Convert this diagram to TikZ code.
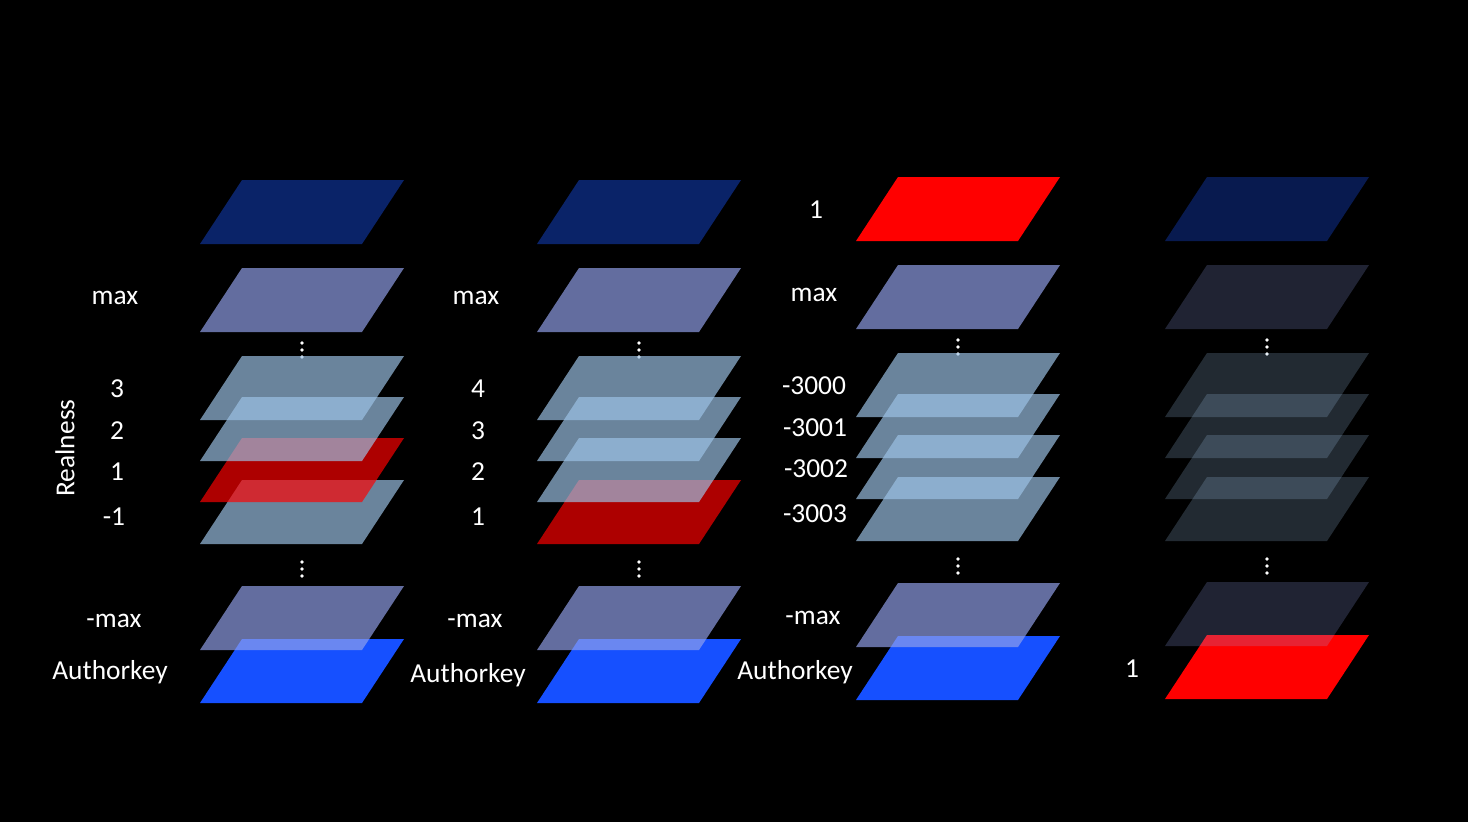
\documentclass[tikz,border=0pt]{standalone}
\usepackage{fontspec}
\setmainfont{Carlito}
\definecolor{navy}{RGB}{10,35,104}
\definecolor{navydim}{RGB}{8,26,79}
\definecolor{slate}{RGB}{147,162,235}
\definecolor{steel}{RGB}{157,195,230}
\definecolor{authblue}{RGB}{22,80,255}
% one layer: bottom left corner, colour, opacity
\newcommand{\layer}[4]{\fill[#3,opacity=#4] (#1,#2) -- ++(162,0) -- ++(42,-64) -- ++(-162,0) -- cycle;}
\newcommand{\dotsat}[2]{\foreach \d in {-7,0,7} \fill[white] (#1,#2+\d) circle (1.8);}
\begin{document}
\begin{tikzpicture}[x=0.02cm, y=-0.02cm, lbl/.style={text=white, font=\fontsize{15.6}{18}\selectfont}]
\fill[black] (0,0) rectangle (1468,822);
% dots behind the stacks
\dotsat{302}{350} \dotsat{302}{569}
\dotsat{639}{350} \dotsat{639}{569}
\dotsat{958}{347} \dotsat{958}{566}
\dotsat{1267}{347} \dotsat{1267}{566}
% first stack
\layer{200}{703}{authblue}{1}
\layer{200}{650}{slate}{0.68}
\layer{200}{544}{steel}{0.68}
\layer{200}{502}{red}{0.68}
\layer{200}{461}{steel}{0.68}
\layer{200}{420}{steel}{0.68}
\layer{200}{332}{slate}{0.68}
\layer{200}{244}{navy}{1}
% second stack
\layer{537}{703}{authblue}{1}
\layer{537}{650}{slate}{0.68}
\layer{537}{544}{red}{0.68}
\layer{537}{502}{steel}{0.68}
\layer{537}{461}{steel}{0.68}
\layer{537}{420}{steel}{0.68}
\layer{537}{332}{slate}{0.68}
\layer{537}{244}{navy}{1}
% third stack
\layer{856}{700}{authblue}{1}
\layer{856}{647}{slate}{0.68}
\foreach \y in {541,499,458,417} {\layer{856}{\y}{steel}{0.68}}
\layer{856}{329}{slate}{0.68}
\layer{856}{241}{red}{1}
% fourth stack
\layer{1165}{699}{red}{1}
\layer{1165}{646}{slate}{0.22}
\foreach \y in {541,499,458,417} {\layer{1165}{\y}{steel}{0.22}}
\layer{1165}{329}{slate}{0.22}
\layer{1165}{241}{navydim}{1}
% labels
\node[lbl, rotate=90] (realness) at (65,448) {Realness};
\node[lbl] (amax) at (115,298) {max};
\node[lbl] (a3) at (117,389) {3};
\node[lbl] (a2) at (117,431) {2};
\node[lbl] (a1) at (117,472) {1};
\node[lbl] (am1) at (114,517) {-1};
\node[lbl] (aminmax) at (114,621) {-max};
\node[lbl] (akey) at (110,672) {Authorkey};
\node[lbl] (bmax) at (476,298) {max};
\node[lbl] (b4) at (478,389) {4};
\node[lbl] (b3) at (478,431) {3};
\node[lbl] (b2) at (478,472) {2};
\node[lbl] (b1) at (478,517) {1};
\node[lbl] (bminmax) at (475,621) {-max};
\node[lbl] (bkey) at (468,675) {Authorkey};
\node[lbl] (c1) at (816,210) {1};
\node[lbl] (cmax) at (814,295) {max};
\node[lbl] (c3000) at (814,386) {-3000};
\node[lbl] (c3001) at (815,428) {-3001};
\node[lbl] (c3002) at (816,469) {-3002};
\node[lbl] (c3003) at (815,514) {-3003};
\node[lbl] (cminmax) at (813,618) {-max};
\node[lbl] (ckey) at (795,672) {Authorkey};
\node[lbl] (d1) at (1132,669) {1};
\end{tikzpicture}
\end{document}
